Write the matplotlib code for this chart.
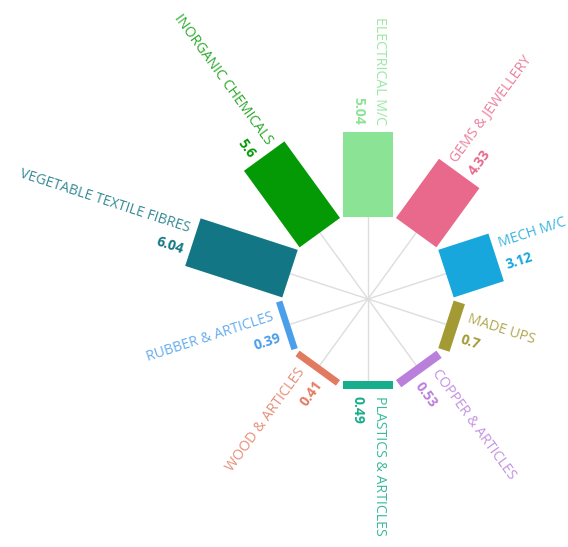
import numpy as np
import matplotlib.pyplot as plt
from matplotlib.patches import Rectangle

plt.rcParams['font.family'] = ['Open Sans', 'DejaVu Sans']

# categories clockwise from the top
categories = ['ELECTRICAL M/C', 'GEMS & JEWELLERY', 'MECH M/C', 'MADE UPS',
              'COPPER & ARTICLES', 'PLASTICS & ARTICLES', 'WOOD & ARTICLES',
              'RUBBER & ARTICLES', 'VEGETABLE TEXTILE FIBRES', 'INORGANIC CHEMICALS']
values = [5.04, 4.33, 3.12, 0.7, 0.53, 0.49, 0.41, 0.39, 6.04, 5.6]
value_labels = ['5.04', '4.33', '3.12', '0.7', '0.53', '0.49', '0.41', '0.39', '6.04', '5.6']
colors = ['#8be396', '#e8698b', '#17a7dc', '#a39a33', '#b97fdb',
          '#17ae8c', '#e27a60', '#4a9eea', '#137684', '#049a05']

px = 16.9          # pixels per data unit
r0 = 82 / px       # inner radius
bw = 50 / px       # bar width
gap = 7 / px

fig = plt.figure(figsize=(5.68, 5.47), dpi=100)
ax = fig.add_axes([0, 0, 1, 1])
cx, cy = 368, 299
ax.set_xlim(-cx / px, (568 - cx) / px)
ax.set_ylim(-(547 - cy) / px, cy / px)
ax.axis('off')

n = len(categories)
for i in range(n):
    ang = 90 - i * 360 / n
    a = np.radians(ang)
    d = np.array([np.cos(a), np.sin(a)])
    p = np.array([-np.sin(a), np.cos(a)])
    # spoke
    ax.plot([0, r0 * d[0]], [0, r0 * d[1]], color='#dddddd', lw=1, zorder=1)
    # bar as rotated rectangle
    corner = r0 * d - (bw / 2) * p
    ax.add_patch(Rectangle(corner, values[i], bw, angle=ang,
                           rotation_point='xy', color=colors[i], lw=0, zorder=2))
    # labels
    r_txt = r0 + values[i] + gap
    outward = np.cos(a) > 1e-6 or abs(ang + 90) < 1e-6
    if outward:
        rot = ang
        ha = 'left'
    else:
        rot = ang - 180
        ha = 'right'
    rr = np.radians(rot)
    up = np.array([-np.sin(rr), np.cos(rr)])
    pos = r_txt * d
    lp = pos + up * (12 / px)
    vp = pos - up * (10 / px)
    ax.text(lp[0], lp[1], categories[i], rotation=rot, rotation_mode='anchor',
            ha=ha, va='center', color=colors[i], fontsize=10.2, alpha=0.85)
    ax.text(vp[0], vp[1], value_labels[i], rotation=rot, rotation_mode='anchor',
            ha=ha, va='center', color=colors[i], fontsize=10, fontweight='bold')

fig.savefig('out.png', dpi=100)
